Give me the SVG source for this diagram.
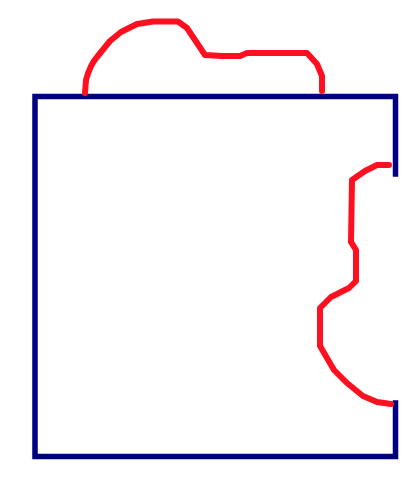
<svg xmlns="http://www.w3.org/2000/svg" width="412" height="478" viewBox="0 0 412 478">
<style>
.box{fill:none;stroke:#000080;stroke-width:5.5;stroke-linecap:square;stroke-linejoin:miter}
.cut{fill:none;stroke:#ff1020;stroke-width:6;stroke-linecap:round;stroke-linejoin:round}
</style>
<rect width="412" height="478" fill="#ffffff"/>
<g id="outline">
<path class="box" d="M395.5,174 V96.5 H35 V456.5 H395.5 V403"/>
</g>
<g id="cuts">
<path class="cut" d="M85,93 L86,80 Q90,65 97,57 L110,41 L121,32 L137,24 L153,21.5 L178,21.5 L187,28 L197,43 L205,55 L222,56 L240,56 L247,53 L307,53 L317,64 L322,76 L322,91"/>
<path class="cut" d="M389,165 L377,165 L365,171 L352,180 L351,242 L356,250 L356,281 L349,288 L331,297 L320,308 L320,346 L327,358 L334,370 L347,383 L363,396 L377,402 L391,404"/>
</g>
</svg>
